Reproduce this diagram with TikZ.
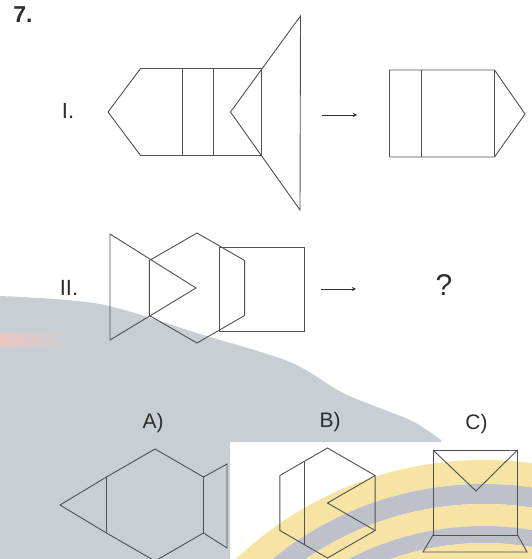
\documentclass[tikz,border=0pt]{standalone}
\usepackage{fontspec}
\setmainfont{Liberation Sans}
\usetikzlibrary{arrows.meta,positioning,calc}
\definecolor{wmgrey}{RGB}{201,206,212}
\definecolor{wmyellow}{RGB}{247,227,163}
\definecolor{wmband}{RGB}{190,193,201}
\definecolor{wmpink}{RGB}{236,198,192}
\definecolor{ink}{RGB}{80,80,80}
\definecolor{txt}{RGB}{45,45,45}
\tikzset{
  fig/.style={draw=ink, line width=0.9pt, line join=miter},
  lab/.style={text=txt, font=\fontsize{21}{21}\selectfont, inner sep=0pt},
}

\begin{document}
\begin{tikzpicture}[>=stealth, x=1pt, y=-1pt]
\useasboundingbox (0,0) rectangle (532,559);
% watermark behind the figures
\fill[wmgrey] plot[smooth] coordinates {(0,296) (100,304) (200,334) (290,362) (345,394) (410,420) (441,440)}
  -- (441,442) -- (230,442) -- (230,559) -- (0,559) -- cycle;
\shade[left color=wmpink, right color=wmgrey] (0,333) rectangle (70,346);
\begin{scope}
\clip (230,442) rectangle (532,559);
\fill[wmyellow, even odd rule] (484,820) circle[radius=360pt] (484,820) circle[radius=336pt];
\fill[wmband, even odd rule] (484,820) circle[radius=336pt] (484,820) circle[radius=316pt];
\fill[wmyellow, even odd rule] (484,820) circle[radius=316pt] (484,820) circle[radius=294pt];
\fill[wmband, even odd rule] (484,820) circle[radius=294pt] (484,820) circle[radius=277pt];
\fill[wmyellow, even odd rule] (484,820) circle[radius=277pt] (484,820) circle[radius=250pt];
\end{scope}

\path
(108,112) coordinate (p1)
(140.5,68.5) coordinate (p2)
(261.5,68.5) coordinate (p3)
(261.5,155.5) coordinate (p4)
(140.5,155.5) coordinate (p5)
(300.5,16) coordinate (t1)
(230.5,112) coordinate (t2)
(300,210) coordinate (t3)
(389.5,70) coordinate (r1)
(494.5,70) coordinate (r2)
(525,114) coordinate (r3)
(494.5,157) coordinate (r4)
(389.5,157) coordinate (r5)
(322,115) coordinate (a1)
(357,115) coordinate (a2)
;

\draw
(23,15) node[lab, font=\fontsize{23}{23}\selectfont\bfseries] (num) {7.}
(68,111) node[lab, font=\fontsize{22}{22}\selectfont] (one) {I.}
(69,288) node[lab, font=\fontsize{22}{22}\selectfont] (two) {II.}
(444,285) node[lab, font=\fontsize{30}{30}\selectfont] (qm) {?}
(153,423) node[lab] (optA) {A)}
(330,422) node[lab] (optB) {B)}
(476.5,424) node[lab] (optC) {C)}
;

% I.
\draw[fig] (p1) -- (p2) -- (p3) -- (p4) -- (p5) -- cycle;
\draw[fig] (182,68.5) -- (182,155.5) (213.5,68.5) -- (213.5,155.5);
\draw[fig] (t1) -- (t2) -- (t3) -- cycle;
\draw[fig] (r1) -- (r2) -- (r3) -- (r4) -- (r5) -- cycle (r2) -- (r4);
\draw[fig] (421.5,70) -- (421.5,157);
\draw[line width=0.9pt, txt, ->] (a1) -- (a2);

% II.
\path
(110,234) coordinate (u1)
(196,288) coordinate (u2)
(110,340) coordinate (u3)
(197,288) coordinate (h)
(219.5,247.5) coordinate (s1)
(304,331.5) coordinate (s2)
(321,289) coordinate (b1)
(356,289) coordinate (b2)
;
\draw[fig] (u1) -- (u2) -- (u3) -- cycle;
\draw[fig] ($(h)+(90:55)$) -- ($(h)+(150:55)$) -- ($(h)+(210:55)$) -- ($(h)+(270:55)$) -- ($(h)+(330:55)$) -- ($(h)+(30:55)$) -- cycle;
\draw[fig] (s1) rectangle (s2);
\draw[line width=0.9pt, txt, ->] (b1) -- (b2);

% A)
\path (155,505) coordinate (ha) (60,505) coordinate (ta)
(227,464) coordinate (fa1) (227,548) coordinate (fa2);
\draw[fig] ($(ha)+(90:56)$) -- ($(ha)+(150:56)$) -- ($(ha)+(210:56)$) -- ($(ha)+(270:56)$) -- ($(ha)+(330:56)$) -- ($(ha)+(30:56)$) -- cycle;
\draw[fig] ($(ha)+(150:56)$) -- (ta) -- ($(ha)+(210:56)$);
\draw[fig] ($(ha)+(330:56)$) -- (fa1) -- (fa2) -- ($(ha)+(30:56)$);

% B)
\path (327.5,503) coordinate (hb);
\draw[fig] ($(hb)+(90:55)$) -- ($(hb)+(150:55)$) -- ($(hb)+(210:55)$) -- ($(hb)+(270:55)$) -- ($(hb)+(330:55)$) -- ($(hb)+(30:55)$) -- cycle;
\draw[fig] ($(hb)+(30:55)$) -- (hb) -- ($(hb)+(330:55)$);
\draw[fig] (304,461.5) -- (304,544.5);

% C)
\path (433,450) coordinate (c1) (517.5,450) coordinate (c2)
(517.5,535) coordinate (c3) (433,535) coordinate (c4)
(476,491) coordinate (cv) (423,552) coordinate (c5) (527,552) coordinate (c6);
\draw[fig] (c1) -- (c2) -- (c3) -- (c4) -- cycle;
\draw[fig] (c1) -- (cv) -- (c2);
\draw[fig] (c4) -- (c5) -- (c6) -- (c3);
\end{tikzpicture}
\end{document}
